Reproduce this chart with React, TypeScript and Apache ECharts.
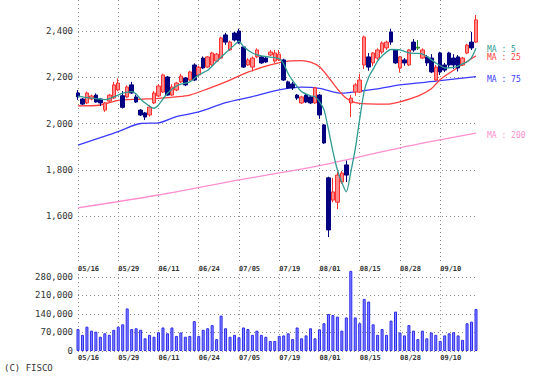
import React, { useEffect, useRef } from "react";
import * as echarts from "echarts";

const dates = [
  "05/16","05/17","05/20","05/21","05/22","05/23","05/24","05/27","05/28","05/29","05/30","05/31",
  "06/03","06/04","06/05","06/06","06/07","06/10","06/11","06/12","06/13","06/14","06/17","06/18","06/19","06/20","06/21","06/24","06/25","06/26","06/27","06/28",
  "07/01","07/02","07/03","07/04","07/05","07/08","07/09","07/10","07/11","07/12","07/16","07/17","07/18","07/19","07/22","07/23","07/24","07/25","07/26","07/29","07/30","07/31",
  "08/01","08/02","08/05","08/06","08/07","08/08","08/09","08/13","08/14","08/15","08/16","08/19","08/20","08/21","08/22","08/23","08/26","08/27","08/28","08/29","08/30",
  "09/02","09/03","09/04","09/05","09/06","09/09","09/10","09/11","09/12","09/13","09/17","09/18","09/19","09/20","09/24",
];

const opens = [
  2132,2106,2089,2106,2123,2106,2058,2097,2110,2145,2120,2115,2167,2115,2058,2046,2037,2089,2119,2136,
  2201,2123,2145,2180,2197,2188,2253,2210,2283,2244,2253,2270,2283,2383,2318,2391,2400,2331,2253,2244,
  2288,2288,2283,2296,2270,2275,2275,2180,2171,2123,2089,2123,2115,2089,2123,1994,1765,1669,1660,1747,
  1821,2089,2136,2136,2253,2288,2262,2283,2309,2327,2396,2318,2240,2275,2253,2352,2330,2283,2288,2283,
  2188,2305,2253,2305,2283,2288,2253,2305,2352,2352,
];
const closes = [
  2115,2084,2132,2119,2093,2089,2089,2123,2167,2175,2070,2158,2132,2093,2037,2028,2071,2132,2162,2210,
  2123,2158,2175,2205,2167,2223,2188,2244,2240,2288,2305,2300,2370,2352,2352,2361,2348,2244,2275,2283,
  2318,2262,2266,2309,2305,2300,2188,2154,2154,2110,2115,2093,2089,2154,2037,1916,1540,1704,1777,1786,
  1777,2110,2167,2188,2374,2244,2305,2318,2348,2352,2352,2262,2288,2262,2318,2318,2326,2318,2262,2223,
  2244,2223,2231,2253,2253,2240,2283,2339,2327,2448,
];
const lows = [
  2102,2080,2084,2100,2090,2076,2050,2093,2106,2140,2065,2110,2128,2089,2032,2015,2030,2084,2115,2132,
  2120,2119,2140,2175,2162,2184,2184,2205,2236,2240,2249,2266,2280,2340,2314,2355,2345,2240,2249,2225,
  2283,2258,2262,2292,2262,2270,2184,2150,2145,2102,2084,2089,2084,2084,2020,1912,1509,1660,1630,1740,
  1747,2028,2120,2132,2236,2228,2249,2275,2300,2318,2340,2258,2220,2250,2249,2310,2318,2280,2249,2218,
  2184,2210,2223,2240,2236,2225,2249,2300,2318,2348,
];
const highs = [
  2145,2110,2138,2125,2130,2108,2093,2128,2180,2195,2140,2165,2180,2125,2062,2050,2080,2140,2170,2215,
  2205,2170,2180,2215,2201,2228,2260,2250,2290,2292,2310,2305,2375,2392,2358,2396,2410,2335,2283,2290,
  2325,2292,2290,2318,2318,2318,2280,2185,2180,2128,2120,2128,2120,2158,2128,1998,1770,1765,1790,1795,
  1840,2123,2175,2215,2380,2305,2309,2325,2355,2358,2410,2322,2292,2283,2322,2365,2361,2325,2296,2300,
  2253,2310,2262,2310,2300,2296,2288,2345,2396,2469,
];
const unchangedDays = ["09/03"];

const volumes = [
  83000,61000,92000,77000,73000,54000,67000,61000,80000,92000,101000,161000,83000,86000,80000,48000,61000,54000,71000,89000,
  67000,89000,57000,70000,54000,57000,113000,57000,80000,86000,98000,45000,134000,86000,54000,61000,52000,89000,83000,61000,
  77000,61000,54000,38000,38000,57000,59000,67000,45000,89000,48000,59000,86000,48000,82000,105000,140000,136000,130000,77000,
  127000,303000,127000,105000,197000,187000,101000,61000,83000,61000,115000,149000,70000,59000,98000,77000,45000,77000,48000,70000,
  61000,38000,59000,67000,71000,59000,42000,105000,111000,159000,
];

const ma5Idx = [0,2,4,6,8,10,12,13,14,16,17,18,20,22,23,25,27,29,31,33,35,36,37,39,41,43,45,46,47,48,49,50,52,53,54,55,56,57,58,59,60,61,62,63,64,65,66,67,68,70,72,74,76,77,78,80,81,82,84,85,86,87,88,89];
const ma5Val = [2118,2112,2108,2103,2115,2131,2138,2128,2105,2075,2066,2080,2131,2162,2170,2180,2210,2230,2268,2305,2340,2356,2333,2305,2292,2287,2280,2258,2215,2185,2160,2138,2120,2116,2095,2060,1975,1880,1800,1745,1705,1790,1890,2020,2140,2200,2235,2270,2292,2320,2318,2305,2303,2300,2290,2262,2250,2240,2243,2248,2258,2267,2285,2325];
const ma25Idx = [0,5,9,14,18,22,25,29,34,38,43,47,50,52,54,56,58,60,62,65,69,72,76,79,81,84,89];
const ma25Val = [2076,2080,2100,2105,2109,2115,2123,2150,2188,2222,2253,2270,2272,2265,2245,2200,2150,2109,2090,2085,2084,2094,2118,2150,2190,2230,2293];
const ma75Idx = [0,5,9,14,18,22,27,33,38,45,50,54,59,63,67,72,81,89];
const ma75Val = [1907,1939,1965,2000,2003,2030,2050,2090,2112,2145,2157,2152,2131,2140,2150,2167,2185,2203];
const ma200Idx = [0,18,36,54,72,89];
const ma200Val = [1635,1691,1756,1818,1895,1958];

const priceTicks = { min: 1400, max: 2534, step: 200 };
const volTicks = { min: 0, max: 306000, step: 70000 };

const C_MA5 = "#2f9b93";
const C_MA25 = "#ff3c3c";
const C_MA75 = "#3a3aff";
const C_MA200 = "#ff8fcf";
const MONO = '"DejaVu Sans Mono", monospace';
const GRID_LINE = { color: "#8a8a8a", type: [1, 3] as number[], width: 1 };

const pairs = (idx: number[], val: number[]) => idx.map((x, k) => [x, val[k]]);

export default function App() {
  const ref = useRef<HTMLDivElement>(null);
  useEffect(() => {
    const chart = echarts.init(ref.current!, null, { renderer: "svg" });
    const GREEN = "#2a8a2a";
    const candles = dates.map((d, i) => {
      const v = [opens[i], closes[i], lows[i], highs[i]];
      if (unchangedDays.includes(d)) {
        return { value: v, itemStyle: { color: GREEN, color0: GREEN, borderColor: GREEN, borderColor0: GREEN } };
      }
      return v;
    });
    const xCommon = {
      type: "category" as const,
      data: dates,
      boundaryGap: false,
      axisLine: { show: false },
      axisTick: { show: false },
      axisLabel: {
        interval: 8,
        align: "left" as const,
        fontSize: 7,
        fontWeight: "bold" as const,
        fontFamily: MONO,
        color: "#333",
        margin: 3,
      },
      splitLine: { show: true, interval: 8, lineStyle: GRID_LINE },
    };
    const lineSeries = (name: string, data: number[][], color: string, smooth: number) => ({
      name,
      type: "line" as const,
      data,
      xAxisIndex: 0,
      yAxisIndex: 0,
      showSymbol: false,
      symbol: "none",
      smooth,
      clip: false,
      lineStyle: { color, width: 1.3 },
      z: 3,
    });
    chart.setOption({
      animation: false,
      backgroundColor: "#ffffff",
      grid: [
        { left: 78, width: 398, top: 0, height: 262.3 },
        { left: 78, width: 398, top: 270.1, height: 80.9 },
      ],
      xAxis: [
        { ...xCommon, gridIndex: 0 },
        { ...xCommon, gridIndex: 1 },
      ],
      yAxis: [
        {
          type: "value",
          gridIndex: 0,
          min: priceTicks.min,
          max: priceTicks.max,
          interval: priceTicks.step,
          axisLine: { show: false },
          axisTick: { show: false },
          axisLabel: {
            fontSize: 9,
            fontFamily: MONO,
            color: "#333",
            margin: 5,
            formatter: (v: number) =>
              v === priceTicks.min || v % priceTicks.step !== 0 ? "" : v.toLocaleString("en-US"),
          },
          splitLine: { show: true, showMinLine: false, showMaxLine: false, lineStyle: GRID_LINE },
        },
        {
          type: "value",
          gridIndex: 1,
          min: volTicks.min,
          max: volTicks.max,
          interval: volTicks.step,
          axisLine: { show: false },
          axisTick: { show: false },
          axisLabel: {
            fontSize: 9,
            fontFamily: MONO,
            color: "#333",
            margin: 5,
            formatter: (v: number) => (v % volTicks.step === 0 ? v.toLocaleString("en-US") : ""),
          },
          splitLine: { show: true, showMaxLine: false, lineStyle: GRID_LINE },
        },
      ],
      series: [
        lineSeries("MA200", pairs(ma200Idx, ma200Val), C_MA200, 0.3),
        lineSeries("MA75", pairs(ma75Idx, ma75Val), C_MA75, 0.3),
        lineSeries("MA25", pairs(ma25Idx, ma25Val), C_MA25, 0.3),
        {
          type: "candlestick",
          xAxisIndex: 0,
          yAxisIndex: 0,
          data: candles,
          barWidth: 4,
          clip: false,
          z: 4,
          itemStyle: {
            color: "#ff8c8c",
            color0: "#000080",
            borderColor: "#ff3030",
            borderColor0: "#000080",
            borderWidth: 1,
          },
        },
        { ...lineSeries("MA5", pairs(ma5Idx, ma5Val), C_MA5, 0.25), z: 5 },
        {
          type: "bar",
          xAxisIndex: 1,
          yAxisIndex: 1,
          data: volumes,
          barWidth: 3,
          clip: false,
          itemStyle: { color: "#8a8aff", borderColor: "#2a2af0", borderWidth: 1 },
        },
      ],
      graphic: [
        { type: "text", x: 487, y: 49, style: { text: "MA : 5", fill: C_MA5, font: `8px ${MONO}`, verticalAlign: "middle" } },
        { type: "text", x: 487, y: 57, style: { text: "MA : 25", fill: C_MA25, font: `8px ${MONO}`, verticalAlign: "middle" } },
        { type: "text", x: 487, y: 79, style: { text: "MA : 75", fill: C_MA75, font: `8px ${MONO}`, verticalAlign: "middle" } },
        { type: "text", x: 487, y: 135, style: { text: "MA : 200", fill: C_MA200, font: `8px ${MONO}`, verticalAlign: "middle" } },
        { type: "text", x: 4, y: 368, style: { text: "(C) FISCO", fill: "#333", font: `9px ${MONO}`, verticalAlign: "middle" } },
      ],
    });
    return () => chart.dispose();
  }, []);
  return <div ref={ref} style={{ position: "fixed", left: 0, top: 0, width: 540, height: 383 }} />;
}
